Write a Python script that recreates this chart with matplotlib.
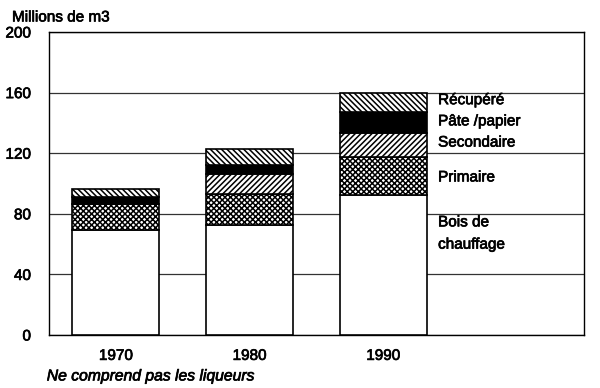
import matplotlib
matplotlib.use('Agg')
import matplotlib.pyplot as plt
import matplotlib.patheffects as pe
import numpy as np

plt.rcParams['font.family'] = ['Liberation Sans', 'DejaVu Sans']
plt.rcParams['hatch.linewidth'] = 1.1

years = ['1970', '1980', '1990']
categories = ['Bois de\nchauffage', 'Primaire', 'Secondaire', 'Pâte /papier', 'Récupéré']
bois = [69, 72.5, 92.5]
primaire = [17.5, 20.5, 25]
secondaire = [0, 13, 16]
pate = [4.5, 6, 14]
recupere = [5.5, 11, 12.5]
series = [bois, primaire, secondaire, pate, recupere]

fills = ['white', 'white', 'white', 'black', 'white']
hatches = [None, 'xxxxxx', '//////', None, '\\\\\\\\\\\\']
label_y = [67, 104, 127, 141, 155]

# slight stroke to mimic the heavy print of the original
thick = [pe.withStroke(linewidth=0.5, foreground='black')]

fig = plt.figure(figsize=(6, 3.88), dpi=100)
ax = fig.add_axes([0.0817, 0.1366, 0.8913, 0.7809])

x = np.arange(len(years))
bottom = np.zeros(len(years))
for vals, fc, h in zip(series, fills, hatches):
    ax.bar(x, vals, width=0.65, bottom=bottom, color=fc, edgecolor='black',
           hatch=h, linewidth=1.2, zorder=3)
    bottom += np.array(vals)

for lab, ly in zip(categories, label_y):
    ax.text(x[-1] + 0.41, ly, lab, fontsize=11, va='center', ha='left',
            linespacing=1.75, path_effects=thick)

ax.set_xlim(-0.5, 3.5)
ax.set_ylim(0, 200)
ax.set_yticks([0, 40, 80, 120, 160, 200])
ax.set_xticks(x)
ax.set_xticklabels(years)
ax.tick_params(axis='y', length=0, labelsize=11, pad=13)
ax.tick_params(axis='x', length=0, labelsize=11, pad=10)
for t in ax.get_xticklabels() + ax.get_yticklabels():
    t.set_path_effects(thick)
ax.yaxis.grid(True, color='#333333', linewidth=0.9, zorder=0)
for s in ax.spines.values():
    s.set_linewidth(1.0)

fig.text(0.02, 0.955, 'Millions de m3', fontsize=11, ha='left', va='center',
         path_effects=thick)
fig.text(0.078, 0.031, 'Ne comprend pas les liqueurs', fontsize=11.3,
         style='italic', ha='left', va='center', path_effects=thick)

fig.savefig('out.png', dpi=100)
